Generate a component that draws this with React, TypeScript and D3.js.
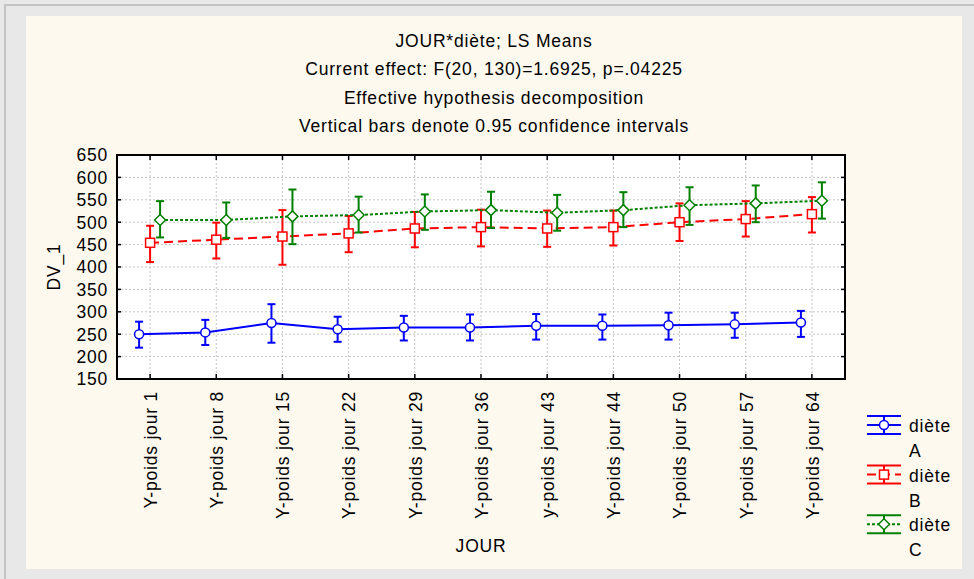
import React from "react";
import * as d3 from "d3";

const categories = [
  "Y-poids jour 1", "Y-poids jour 8", "Y-poids jour 15", "Y-poids jour 22",
  "Y-poids jour 29", "Y-poids jour 36", "y-poids jour 43", "Y-poids jour 44",
  "Y-poids jour 50", "Y-poids jour 57", "Y-poids jour 64",
];
const yTicks = [150, 200, 250, 300, 350, 400, 450, 500, 550, 600, 650];

const meanA = [250, 254, 275, 261, 265, 265, 269, 269, 270, 272, 276];
const lowA = [220, 226, 231, 233, 236, 236, 238, 238, 238, 242, 244];
const highA = [278, 282, 317, 289, 291, 294, 295, 294, 298, 298, 302];

const meanB = [454, 461, 468, 475, 486, 489, 486, 489, 500, 507, 518];
const lowB = [411, 419, 405, 433, 444, 446, 445, 448, 458, 468, 477];
const highB = [492, 499, 527, 514, 523, 528, 526, 526, 542, 547, 556];

const meanC = [505, 505, 513, 516, 524, 527, 521, 527, 538, 542, 548];
const lowC = [466, 465, 451, 477, 483, 487, 481, 489, 494, 500, 508];
const highC = [547, 544, 573, 557, 562, 568, 561, 567, 578, 582, 589];

const titleLines = [
  "JOUR*diète; LS Means",
  "Current effect: F(20, 130)=1.6925, p=.04225",
  "Effective hypothesis decomposition",
  "Vertical bars denote 0.95 confidence intervals",
];

const seriesNames = ["diète", "diète", "diète"];
const seriesLevels = ["A", "B", "C"];

const W = 974, H = 579;
const PL = 117, PR = 845, PT = 155, PB = 379;
const FONT = "'Liberation Sans', Arial, sans-serif";
const FS = 17.5;
const LS = "0.8px";
const TXT = "#000";

type Series = {
  mean: number[]; low: number[]; high: number[];
  color: string; dash: string | undefined; marker: "circle" | "square" | "diamond"; offset: number;
};

const series: Series[] = [
  { mean: meanA, low: lowA, high: highA, color: "#0000ff", dash: undefined, marker: "circle", offset: -11 },
  { mean: meanB, low: lowB, high: highB, color: "#ff0000", dash: "9,5", marker: "square", offset: 0 },
  { mean: meanC, low: lowC, high: highC, color: "#008000", dash: "3,2", marker: "diamond", offset: 10 },
];

function Marker({ kind, x, y, color }: { kind: string; x: number; y: number; color: string }) {
  if (kind === "circle") return <circle cx={x} cy={y} r={4.5} fill="#fff" stroke={color} strokeWidth={1.5} />;
  if (kind === "square") return <rect x={x - 4.5} y={y - 4.5} width={9} height={9} fill="#fff" stroke={color} strokeWidth={1.5} />;
  const r = 5.5;
  return <path d={`M${x},${y - r}L${x + r},${y}L${x},${y + r}L${x - r},${y}Z`} fill="#fff" stroke={color} strokeWidth={1.5} />;
}

export default function App() {
  const x = d3.scalePoint<string>().domain(categories).range([PL, PR]).padding(0.5);
  const y = d3.scaleLinear().domain([150, 650]).range([PB, PT]);
  const cap = 4;

  return (
    <svg width={W} height={H} style={{ position: "fixed", left: 0, top: 0, display: "block" }}
      fontFamily={FONT} fontSize={FS}>
      <rect x={0} y={0} width={W} height={H} fill="#e8e8e8" />
      <path d={`M5,${H}V5H${W}`} fill="none" stroke="#c4c4c4" strokeWidth={2} />
      <rect x={26} y={16} width={936} height={553} fill="#fef9ee" />

      {titleLines.map((t, i) => (
        <text key={i} x={494} y={47 + i * 28.4} textAnchor="middle" fill={TXT} letterSpacing={LS}>{t}</text>
      ))}

      <rect x={PL} y={PT} width={PR - PL} height={PB - PT} fill="#fff" />
      {/* grid */}
      {yTicks.slice(1, -1).map((t) => (
        <line key={"gy" + t} x1={PL} x2={PR} y1={y(t)} y2={y(t)} stroke="#c4c4c4" strokeDasharray="2,2" />
      ))}
      {categories.map((c) => (
        <line key={"gx" + c} x1={x(c)} x2={x(c)} y1={PT} y2={PB} stroke="#c4c4c4" strokeDasharray="2,2" />
      ))}
      {/* ticks */}
      {yTicks.map((t) => (
        <g key={"ty" + t}>
          <line x1={PL} x2={PL + 4} y1={y(t)} y2={y(t)} stroke="#000" strokeWidth={1.5} />
          <line x1={PR} x2={PR - 4} y1={y(t)} y2={y(t)} stroke="#000" strokeWidth={1.5} />
          <text x={108} y={y(t)} dy="0.36em" textAnchor="end" fill={TXT} letterSpacing={LS}>{t}</text>
        </g>
      ))}
      {categories.map((c) => (
        <g key={"tx" + c}>
          <line x1={x(c)} x2={x(c)} y1={PT} y2={PT + 5} stroke="#000" strokeWidth={1.5} />
          <line x1={x(c)} x2={x(c)} y1={PB} y2={PB - 5} stroke="#000" strokeWidth={1.5} />
          <text transform={`translate(${x(c)! + 0.5},391) rotate(-90)`} dy="0.36em" textAnchor="end" fill={TXT} letterSpacing={LS}>{c}</text>
        </g>
      ))}

      {/* series */}
      {series.map((s, si) => {
        const px = (i: number) => x(categories[i])! + s.offset;
        const line = d3.line<number>().x((_, i) => px(i)).y((v) => y(v));
        return (
          <g key={"s" + si}>
            <path d={line(s.mean) || ""} fill="none" stroke={s.color} strokeWidth={2} strokeDasharray={s.dash} />
            {s.mean.map((m, i) => (
              <g key={i}>
                <line x1={px(i)} x2={px(i)} y1={y(s.low[i])} y2={y(s.high[i])} stroke={s.color} strokeWidth={2} />
                <line x1={px(i) - cap} x2={px(i) + cap} y1={y(s.low[i])} y2={y(s.low[i])} stroke={s.color} strokeWidth={2} />
                <line x1={px(i) - cap} x2={px(i) + cap} y1={y(s.high[i])} y2={y(s.high[i])} stroke={s.color} strokeWidth={2} />
                <Marker kind={s.marker} x={px(i)} y={y(m)} color={s.color} />
              </g>
            ))}
          </g>
        );
      })}

      <rect x={PL} y={PT} width={PR - PL} height={PB - PT} fill="none" stroke="#000" strokeWidth={2} />

      {/* axis titles */}
      <text x={481} y={552} textAnchor="middle" fill={TXT} letterSpacing={LS}>JOUR</text>
      <text transform={`translate(60,267) rotate(-90)`} textAnchor="middle" fill={TXT} letterSpacing={LS}>DV_1</text>

      {/* legend */}
      {series.map((s, i) => {
        const cy = 425 + i * 49.6;
        const lx1 = 867, lx2 = 901, cx = 884;
        return (
          <g key={"lg" + i}>
            <line x1={lx1} x2={lx2} y1={cy - 9} y2={cy - 9} stroke={s.color} strokeWidth={2} />
            <line x1={lx1} x2={lx2} y1={cy + 9} y2={cy + 9} stroke={s.color} strokeWidth={2} />
            <line x1={cx} x2={cx} y1={cy - 9} y2={cy + 9} stroke={s.color} strokeWidth={2} />
            <line x1={lx1} x2={lx2} y1={cy} y2={cy} stroke={s.color} strokeWidth={2} strokeDasharray={s.dash} />
            <Marker kind={s.marker} x={cx} y={cy} color={s.color} />
            <text x={909} y={cy + 7} fill={TXT} letterSpacing={LS}>{seriesNames[i]}</text>
            <text x={909} y={cy + 32} fill={TXT} letterSpacing={LS}>{seriesLevels[i]}</text>
          </g>
        );
      })}
    </svg>
  );
}
